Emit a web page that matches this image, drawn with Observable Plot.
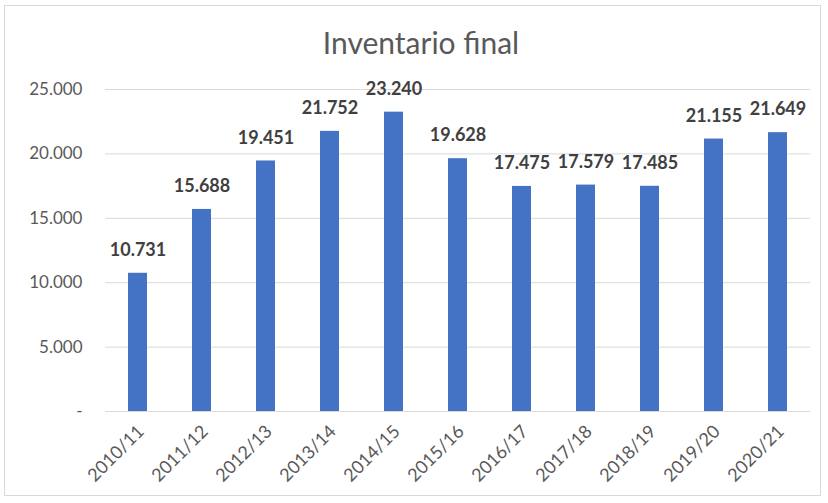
<!DOCTYPE html>
<html>
<head>
<meta charset="utf-8">
<script src="https://cdn.jsdelivr.net/npm/d3@7"></script>
<script src="https://cdn.jsdelivr.net/npm/@observablehq/plot@0.6"></script>
<style>
  body { margin: 0; background: #fff; font-family: Lato, "Open Sans", sans-serif; }
  #wrap { position: relative; width: 828px; height: 503px; overflow: hidden; }
  #frame { position: absolute; left: 4px; top: 5px; width: 817px; height: 491px; border: 1px solid #d9d9d9; box-sizing: border-box; pointer-events: none; }
  #title { position: absolute; left: 0; width: 842px; top: 24px; text-align: center; font-size: 30px; color: #595959; font-family: Lato, sans-serif; }
  #chart { position: absolute; left: 0; top: 0; }
</style>
</head>
<body>
<div id="wrap">
  <div id="frame"></div>
  <div id="title">Inventario final</div>
  <div id="chart"></div>
</div>
<script>
const categories = ["2010/11","2011/12","2012/13","2013/14","2014/15","2015/16","2016/17","2017/18","2018/19","2019/20","2020/21"];
const values = [10731, 15688, 19451, 21752, 23240, 19628, 17475, 17579, 17485, 21155, 21649];
const yTicks = [0, 5000, 10000, 15000, 20000, 25000];

const data = categories.map((c, i) => ({cat: c, value: values[i]}));
const fmt = v => v === 0 ? "-" : d3.format(",")(v).replace(/,/g, ".");

const chart = Plot.plot({
  width: 828,
  height: 503,
  marginLeft: 105,
  marginRight: 18,
  marginTop: 89,
  marginBottom: 92,
  style: { fontFamily: "Lato, sans-serif", background: "transparent" },
  x: { domain: categories, paddingInner: 0.7, paddingOuter: 0.35, label: null },
  y: { domain: [0, 25000], label: null },
  marks: [
    Plot.gridY(yTicks, { stroke: "#d9d9d9", strokeOpacity: 1 }),
    Plot.axisY(yTicks, { tickSize: 0, tickPadding: 23, tickFormat: fmt, fontSize: 17, fill: "#595959", label: null }),
    Plot.axisX({ tickSize: 0, tickRotate: -45, tickPadding: 17, dx: 3, fontSize: 18, fill: "#595959", label: null }),
    Plot.barY(data, { x: "cat", y: "value", fill: "#4472c4" }),
    Plot.ruleY([0], { stroke: "#d9d9d9" }),
    Plot.text(data, { x: "cat", y: "value", text: d => fmt(d.value), dy: -23, fontSize: 18, fontWeight: "bold", fill: "#404040" })
  ]
});
document.getElementById("chart").appendChild(chart);
</script>
</body>
</html>
